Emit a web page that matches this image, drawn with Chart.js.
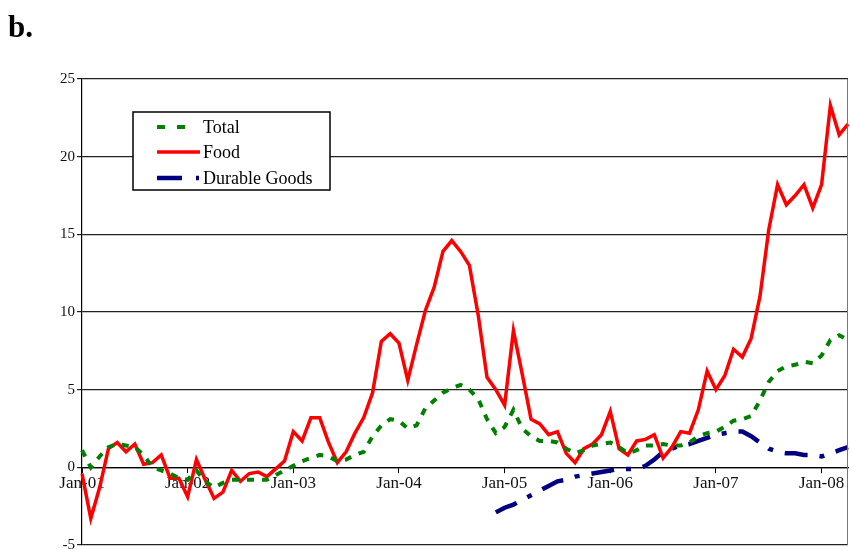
<!DOCTYPE html>
<html>
<head>
<meta charset="utf-8">
<script src="https://cdn.jsdelivr.net/npm/chart.js@4.4.1/dist/chart.umd.min.js"></script>
<style>
	html, body { margin: 0; padding: 0; background: #fff; }
	#wrap { width: 850px; height: 549px; position: relative; }
</style>
</head>
<body>
<div id="wrap"><canvas id="priceChart"></canvas></div>
<script>
// Monthly series, Jan-01 .. Apr-08
let monthNames = ['Jan','Feb','Mar','Apr','May','Jun','Jul','Aug','Sep','Oct','Nov','Dec'];
let years = ['01','02','03','04','05','06','07','08'];
let lastMonthOf08 = 4;

let food = [
	-0.4, -3.3, -1.3, 1.2, 1.6, 1.0, 1.5, 0.2, 0.3, 0.8, -0.7, -0.7,
	-1.9, 0.5, -0.8, -2.0, -1.6, -0.2, -0.9, -0.4, -0.3, -0.6, -0.1, 0.4,
	2.3, 1.7, 3.2, 3.2, 1.6, 0.3, 1.0, 2.2, 3.2, 4.8, 8.1, 8.6,
	8.0, 5.6, 7.9, 10.1, 11.6, 13.9, 14.6, 13.9, 13.0, 9.8, 5.8, 5.0,
	4.0, 8.8, 6.0, 3.1, 2.8, 2.1, 2.3, 0.9, 0.3, 1.2, 1.5, 2.1,
	3.6, 1.2, 0.8, 1.7, 1.8, 2.1, 0.6, 1.3, 2.3, 2.2, 3.7, 6.2,
	5.0, 5.9, 7.6, 7.1, 8.3, 11.0, 15.3, 18.2, 16.9, 17.5, 18.2, 16.7,
	18.2, 23.3, 21.4, 22.1
];

let total = [
	1.1, 0.0, 0.7, 1.3, 1.5, 1.4, 1.3, 0.8, 0.0, -0.2, -0.4, -0.7,
	-0.8, -0.2, -0.9, -1.3, -1.0, -0.8, -0.8, -0.8, -0.8, -0.8, -0.5, -0.2,
	0.1, 0.4, 0.6, 0.8, 0.7, 0.4, 0.5, 0.8, 1.0, 2.0, 2.7, 3.1,
	3.0, 2.5, 2.7, 3.8, 4.3, 4.8, 5.1, 5.3, 5.0, 4.4, 3.1, 2.2,
	2.6, 3.7, 2.5, 2.0, 1.7, 1.7, 1.6, 1.2, 0.9, 1.1, 1.4, 1.5,
	1.6, 1.3, 0.9, 1.1, 1.4, 1.4, 1.5, 1.4, 1.4, 1.6, 2.0, 2.2,
	2.3, 2.6, 3.0, 3.1, 3.3, 4.3, 5.5, 6.2, 6.5, 6.6, 6.8, 6.7,
	7.2, 8.2, 8.5, 8.2
];

let durableGoods = [
	null, null, null, null, null, null, null, null, null, null, null, null,
	null, null, null, null, null, null, null, null, null, null, null, null,
	null, null, null, null, null, null, null, null, null, null, null, null,
	null, null, null, null, null, null, null, null, null, null, null, -2.9,
	-2.6, -2.4, -2.1, -1.8, -1.5, -1.2, -0.9, -0.8, -0.6, -0.5, -0.4, -0.3,
	-0.2, -0.1, -0.1, -0.1, 0.1, 0.5, 1.0, 1.2, 1.4, 1.5, 1.7, 1.9,
	2.1, 2.2, 2.3, 2.3, 2.0, 1.6, 1.2, 1.0, 0.9, 0.9, 0.8, 0.8,
	0.7, 0.9, 1.1, 1.3
];

let yTicks = { min: -5, max: 25, step: 5 };

let labels = [];
years.forEach((yr, i) => {
	let count = i === years.length - 1 ? lastMonthOf08 : 12;
	for (let m = 0; m < count; m++) labels.push(monthNames[m] + '-' + yr);
});

const serif = '"Liberation Serif", "Times New Roman", serif';

// draws the "b." mark, the right frame edge and the boxed legend
const decorPlugin = {
	id: 'decor',
	afterDraw(chart) {
		let ctx = chart.ctx;
		let area = chart.chartArea;
		ctx.save();

		ctx.strokeStyle = '#777';
		ctx.lineWidth = 1;
		ctx.beginPath();
		ctx.moveTo(area.right - 0.5, area.top);
		ctx.lineTo(area.right - 0.5, area.bottom);
		ctx.stroke();

		ctx.fillStyle = '#000';
		ctx.font = 'bold 31px ' + serif;
		ctx.textBaseline = 'alphabetic';
		ctx.textAlign = 'left';
		ctx.fillText('b.', 8, 37);

		// legend
		ctx.fillStyle = '#fff';
		ctx.fillRect(133, 112, 197, 78);
		ctx.strokeStyle = '#000';
		ctx.lineWidth = 1.5;
		ctx.strokeRect(133, 112, 197, 78);

		let rows = [127, 152, 178];
		ctx.font = '18px ' + serif;
		ctx.textBaseline = 'middle';
		chart.data.datasets.forEach((ds, i) => {
			let y = rows[i];
			ctx.strokeStyle = ds.borderColor;
			ctx.lineWidth = ds.borderWidth;
			ctx.lineCap = 'butt';
			ctx.setLineDash(ds.legendDash);
			ctx.beginPath();
			ctx.moveTo(157, y);
			ctx.lineTo(200, y);
			ctx.stroke();
			ctx.setLineDash([]);
			ctx.fillStyle = '#000';
			ctx.fillText(ds.label, 203, y + 1);
		});
		ctx.restore();
	}
};

let chartContext = document.getElementById('priceChart').getContext('2d');

let priceChart = new Chart(chartContext, {
	type: 'line',
	data: {
		labels: labels,
		datasets: [
			{
				label: 'Total',
				data: total,
				borderColor: '#008000',
				borderWidth: 4,
				borderDash: [7, 8],
				legendDash: [8, 12, 8, 100],
				pointRadius: 0,
				tension: 0
			},
			{
				label: 'Food',
				data: food,
				borderColor: '#ff0000',
				borderWidth: 3.5,
				borderDash: [],
				legendDash: [],
				pointRadius: 0,
				tension: 0
			},
			{
				label: 'Durable Goods',
				data: durableGoods,
				borderColor: '#000080',
				borderWidth: 4.5,
				borderDash: [23, 12, 5, 12],
				legendDash: [25, 14, 3, 14],
				pointRadius: 0,
				tension: 0,
				spanGaps: false
			}
		]
	},
	options: {
		responsive: true,
		maintainAspectRatio: false,
		animation: false,
		layout: {
			padding: { top: 79, right: 2, bottom: 4, left: 0 }
		},
		plugins: {
			legend: { display: false },
			tooltip: { enabled: false }
		},
		scales: {
			x: {
				position: { y: 0 },
				offset: false,
				afterFit(scale) {
					scale.paddingLeft = 0;
					scale.paddingRight = 0;
				},
				border: { display: true, color: '#000', width: 1.2 },
				grid: {
					drawOnChartArea: false,
					drawTicks: true,
					tickLength: 5,
					color: (c) => (c.index % 12 === 0 ? '#000' : 'rgba(0,0,0,0)')
				},
				ticks: {
					autoSkip: false,
					maxRotation: 0,
					padding: 1,
					color: '#111',
					font: { family: serif, size: 17 },
					callback: (value, index) => (index % 12 === 0 ? labels[index] : '')
				}
			},
			y: {
				min: yTicks.min,
				max: yTicks.max,
				afterFit(scale) {
					scale.width = 82;
					scale.paddingTop = 0;
					scale.paddingBottom = 0;
				},
				border: { display: true, color: '#000', width: 1.2 },
				grid: {
					color: '#222',
					lineWidth: 1.2,
					tickLength: 5
				},
				ticks: {
					stepSize: yTicks.step,
					padding: 2,
					color: '#111',
					font: { family: serif, size: 15 }
				}
			}
		}
	},
	plugins: [decorPlugin]
});
</script>
</body>
</html>
